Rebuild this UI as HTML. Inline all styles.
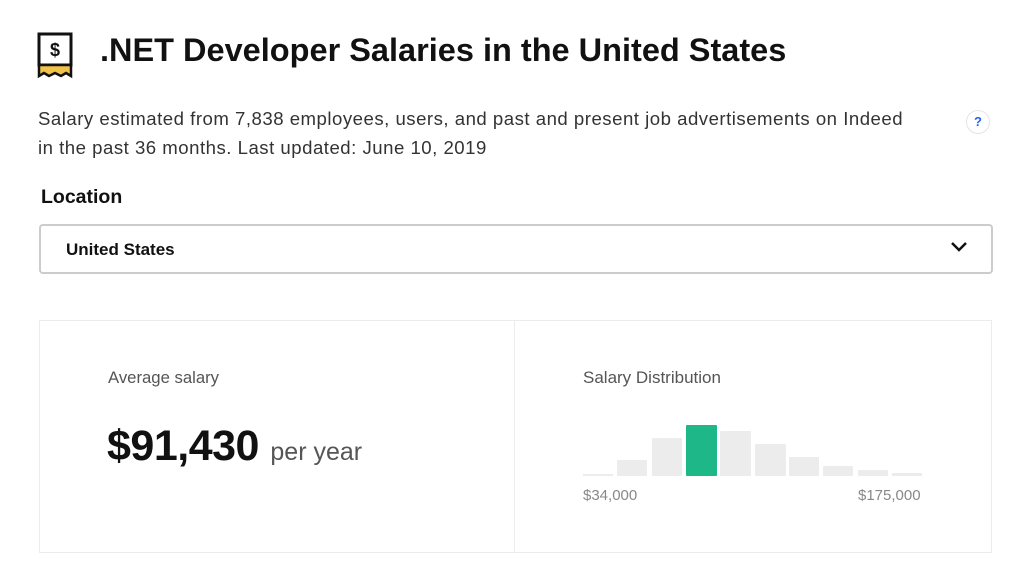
<!DOCTYPE html>
<html><head><style>
body{margin:0;width:1024px;height:573px;background:#fff;font-family:"Liberation Sans",sans-serif;position:relative;overflow:hidden;color:#2d2d2d}
.a{position:absolute;white-space:nowrap}
</style></head><body>
<svg class="a" style="left:37px;top:32px" width="36" height="48" viewBox="0 0 36 48">
<rect x="2" y="2" width="32" height="31" fill="#fff" stroke="#111" stroke-width="3"/>
<path d="M2 33 H34 V44 L29 41 L24 44 L18 41 L12 44 L7 41 L2 44 Z" fill="#f1c24a" stroke="#111" stroke-width="2.5"/>
<text x="18" y="24" font-family="Liberation Sans" font-weight="bold" font-size="18" text-anchor="middle" fill="#111">$</text>
</svg>
<div class="a" style="left:100px;top:32px;font-size:32.5px;font-weight:bold;color:#111">.NET Developer Salaries in the United States</div>
<div class="a" style="left:38px;top:104px;font-size:18.6px;letter-spacing:0.5px;line-height:29px;color:#333">Salary estimated from 7,838 employees, users, and past and present job advertisements on Indeed<br>in the past 36 months. Last updated: June 10, 2019</div>
<div class="a" style="left:966px;top:110px;width:22px;height:22px;border:1px solid #e4e4e4;border-radius:50%;text-align:center;line-height:22px;font-size:13px;font-weight:bold;color:#2164f3">?</div>
<div class="a" style="left:41px;top:186px;font-size:19.5px;font-weight:bold;color:#111">Location</div>
<div class="a" style="left:39px;top:224px;width:950px;height:46px;border:2px solid #ccc;border-radius:4px"></div>
<div class="a" style="left:66px;top:240px;font-size:17px;font-weight:bold;color:#111">United States</div>
<svg class="a" style="left:950px;top:240px" width="18" height="14"><path d="M2 3 L9 10 L16 3" fill="none" stroke="#111" stroke-width="2.5"/></svg>
<div class="a" style="left:39px;top:320px;width:951px;height:231px;border:1px solid #ececec"></div>
<div class="a" style="left:514px;top:320px;width:1px;height:232px;background:#ececec"></div>
<div class="a" style="left:108px;top:368px;font-size:16.7px;color:#555">Average salary</div>
<div class="a" style="left:107px;top:422px;font-size:43px;font-weight:bold;color:#111;letter-spacing:-0.5px">$91,430 <span style="font-size:25px;font-weight:normal;color:#555;letter-spacing:0">per year</span></div>
<div class="a" style="left:583px;top:368px;font-size:17px;color:#555">Salary Distribution</div>
<svg class="a" style="left:0;top:0" width="1024" height="573">
<g fill="#ececec">
<rect x="583" y="474" width="30" height="2"/>
<rect x="617" y="460" width="30" height="16" rx="1"/>
<rect x="652" y="438" width="30" height="38" rx="1"/>
<rect x="720" y="431" width="31" height="45" rx="1"/>
<rect x="755" y="444" width="31" height="32" rx="1"/>
<rect x="789" y="457" width="30" height="19" rx="1"/>
<rect x="823" y="466" width="30" height="10" rx="1"/>
<rect x="858" y="470" width="30" height="6" rx="1"/>
<rect x="892" y="473" width="30" height="3"/>
</g>
<rect x="686" y="425" width="31" height="51" rx="1" fill="#1eb787"/>
</svg>
<div class="a" style="left:583px;top:487px;font-size:15px;color:#888">$34,000</div>
<div class="a" style="left:858px;top:487px;font-size:15px;color:#888">$175,000</div>
</body></html>
